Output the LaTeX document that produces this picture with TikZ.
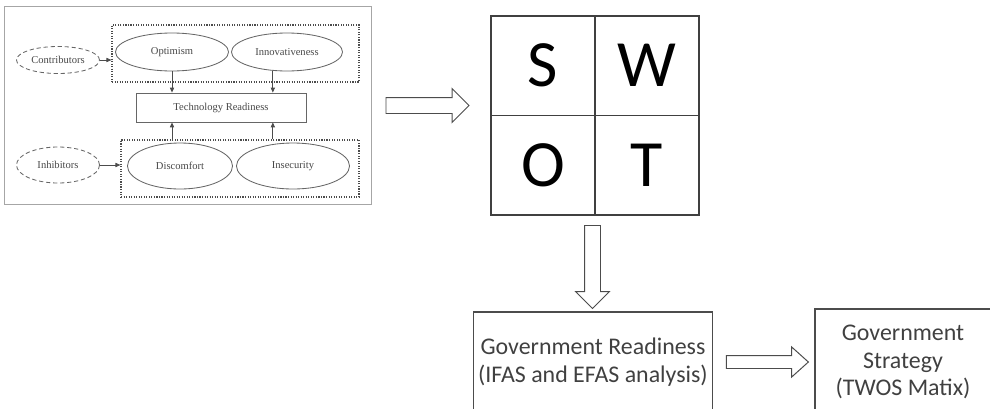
\documentclass[tikz,border=0pt]{standalone}
\usepackage{fontspec}
\setmainfont{Carlito}
\newfontfamily\timesfont{Liberation Serif}
\usepackage{tikz}
\usetikzlibrary{arrows.meta,positioning,shapes.geometric,shapes.arrows,calc}

\begin{document}
\begin{tikzpicture}[x=0.025cm, y=-0.025cm,
    oval/.style={draw=black!60, semithick, ellipse, inner sep=0pt, font=\timesfont\fontsize{7.5}{9}\selectfont, text=black!72},
    dashoval/.style={oval, densely dashed},
    group/.style={draw=black!70, densely dotted, thick, minimum width=#1, minimum height=1.425cm},
    trbox/.style={draw=black!60, semithick, minimum width=4.25cm, minimum height=0.725cm, font=\timesfont\fontsize{7.5}{9}\selectfont, text=black!72},
    lnk/.style={-{Triangle[length=3.5pt,width=3pt]}, black!70, semithick},
    cell/.style={draw=black!75, line width=0.8pt, outer sep=0pt, inner sep=0pt, minimum width=2.6cm, minimum height=2.4875cm, font=\fontsize{47}{50}\selectfont},
    fatarrow/.style={single arrow, draw=black!70, line width=0.7pt, fill=white, inner sep=0.1875cm, single arrow head extend=0.225cm, minimum height=2.075cm},
    govbox/.style={draw=black!70, line width=0.8pt, align=center, font=\fontsize{17}{19.5}\selectfont, text=black!75}
  ]
    \useasboundingbox (0,0) rectangle (990,408);
    \clip (0,0) rectangle (990,408);

    % technology readiness model
    \draw[black!35] (4,6) rectangle (371,204);
    \node[group=6.175cm] (top) at (235.5,53.5) {};
    \node[group=5.95cm] (bot) at (240,168.5) {};
    \node[oval, minimum width=2.825cm, minimum height=0.95cm] (opt) at (172,52) {Optimism};
    \node[oval, minimum width=2.775cm, minimum height=0.95cm] (inn) at (287,52) {Innovativeness};
    \node[dashoval, minimum width=2.075cm, minimum height=0.675cm] (con) at (58,60) {Contributors};
    \node[trbox] (tr) at (221,107.5) {Technology Readiness};
    \node[oval, minimum width=2.625cm, minimum height=1.15cm] (dis) at (180,166) {Discomfort};
    \node[oval, minimum width=2.825cm, minimum height=1.15cm] (ins) at (293,166) {Insecurity};
    \node[dashoval, minimum width=2.075cm, minimum height=0.9cm] (inh) at (58,165) {Inhibitors};

    \draw[lnk] (con) -- (con -| top.west);
    \draw[lnk] (inh) -- (inh -| bot.west);
    \draw[lnk] (opt.south) -- (opt.south |- tr.north);
    \draw[lnk] (inn.233) -- (inn.233 |- tr.north);
    \draw[lnk] (bot.north -| opt.south) -- (tr.south -| opt.south);
    \draw[lnk] (bot.north -| inn.233) -- (tr.south -| inn.233);

    % swot
    \node[cell] (s) at (543,65.75) {S};
    \node[cell, right=0pt of s] (w) {W};
    \node[cell, below=0pt of s] (o) {O};
    \node[cell, right=0pt of o] (t) {T};

    % government
    \node[govbox, minimum width=5.95cm, minimum height=2.5cm] (gr) at (593,362) {Government Readiness\\(IFAS and EFAS analysis)};
    \node[govbox, minimum width=4.4cm, minimum height=2.65cm] (gs) at (903,362) {Government\\Strategy\\(TWOS Matix)};

    \node[fatarrow] (a1) at (423.5,105.5) {};
    \node[fatarrow, shape border rotate=270] (a2) at (592.5,263) {};
    \node[fatarrow, inner sep=0.15cm, single arrow head extend=0.2125cm, single arrow tip angle=84, minimum height=2.05cm] (a3) at ($(gr.east)!0.5!(gs.west)$) {};
  \end{tikzpicture}
\end{document}
